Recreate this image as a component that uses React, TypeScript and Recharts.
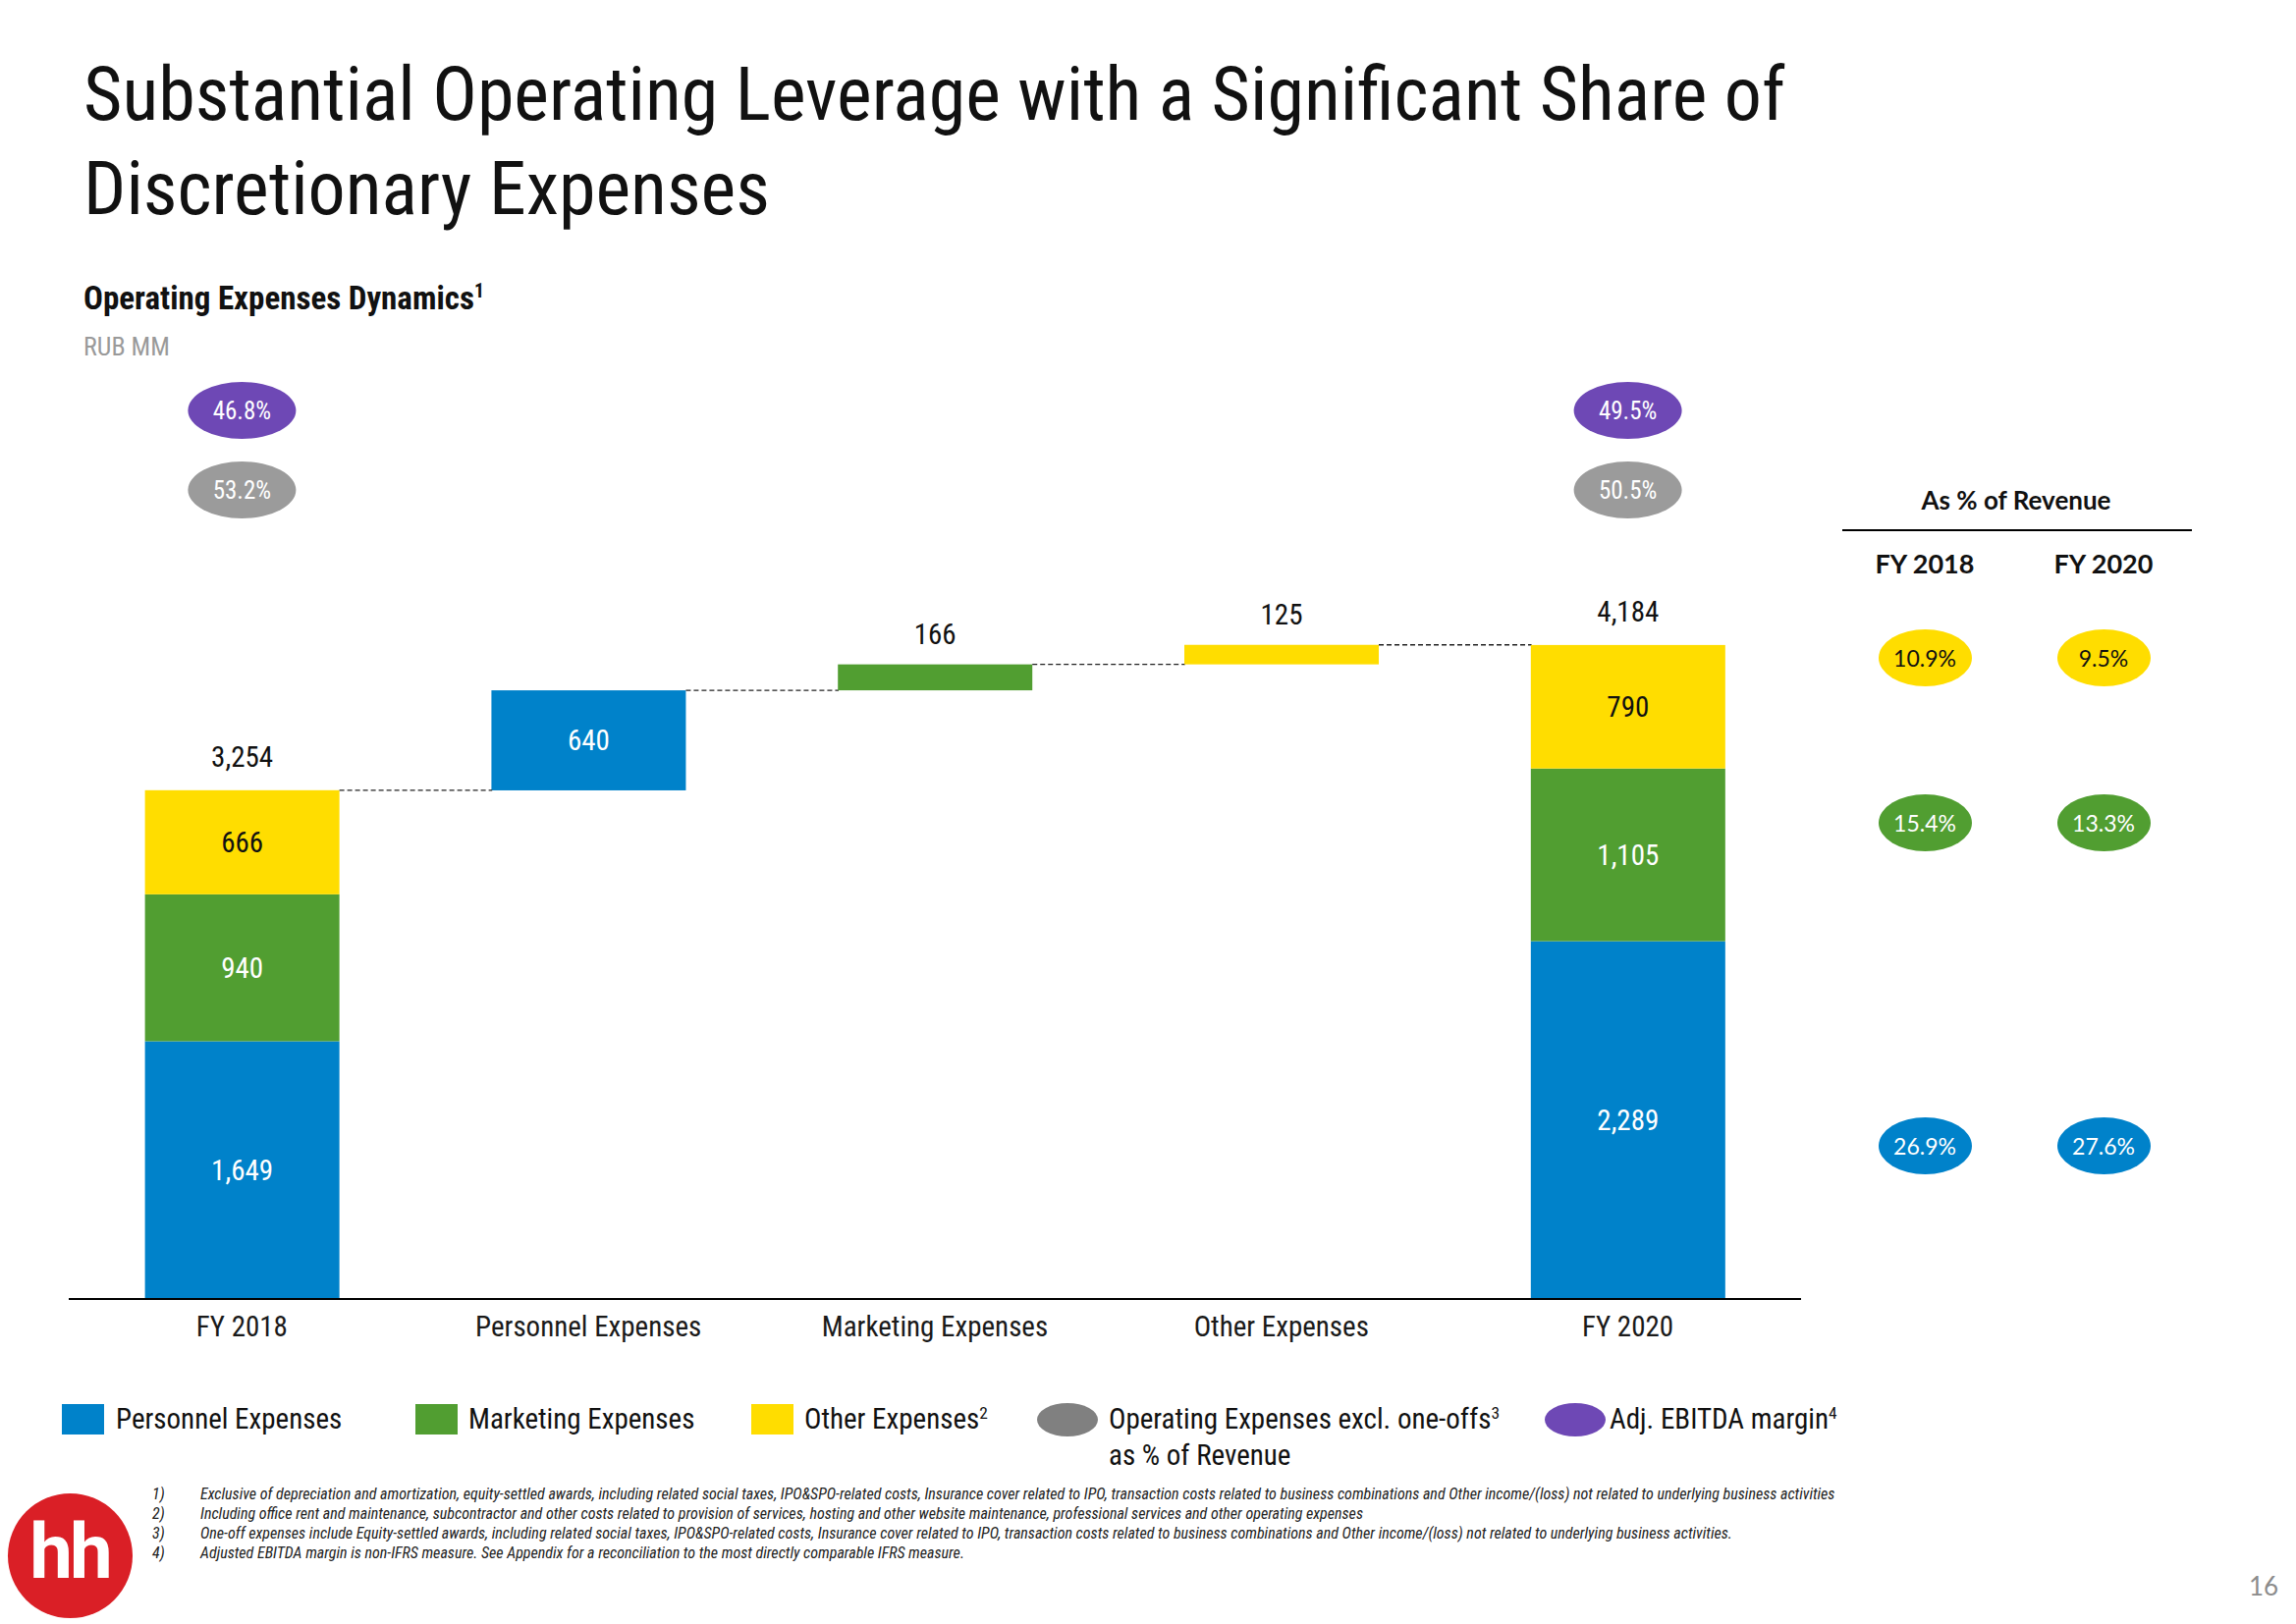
import { BarChart, Bar, XAxis, YAxis } from 'recharts';

// waterfall data (RUB MM)
const categories = ['FY 2018', 'Personnel Expenses', 'Marketing Expenses', 'Other Expenses', 'FY 2020'];
const personnelValues = [1649, 640, 0, 0, 2289];
const marketingValues = [940, 0, 166, 0, 1105];
const otherValues = [666, 0, 0, 125, 790];
const totalValues: (number | null)[] = [3254, null, null, null, 4184];

// bubbles above the total bars
const ebitdaMargin: (string | null)[] = ['46.8%', null, null, null, '49.5%'];
const opexShare: (string | null)[] = ['53.2%', null, null, null, '50.5%'];

// right-hand table, as % of revenue
const revenueYears = ['FY 2018', 'FY 2020'];
const otherShare = ['10.9%', '9.5%'];
const marketingShare = ['15.4%', '13.3%'];
const personnelShare = ['26.9%', '27.6%'];

const footnotes = [
  'Exclusive of depreciation and amortization, equity-settled awards, including related social taxes, IPO&SPO-related costs, Insurance cover related to IPO, transaction costs related to business combinations and Other income/(loss) not related to underlying business activities',
  'Including office rent and maintenance, subcontractor and other costs related to provision of services, hosting and other website maintenance, professional services and other operating expenses',
  'One-off expenses include Equity-settled awards, including related social taxes, IPO&SPO-related costs, Insurance cover related to IPO, transaction costs related to business combinations and Other income/(loss) not related to underlying business activities.',
  'Adjusted EBITDA margin is non-IFRS measure. See Appendix for a reconciliation to the most directly comparable IFRS measure.',
];

const BLUE = '#0082CA';
const GREEN = '#519E31';
const YELLOW = '#FFDD00';
const PURPLE = '#6E48B5';
const GREY = '#9B9B9B';
const LEGEND_GREY = '#808080';
const RED = '#DA1F26';

const NARROW = "'Liberation Sans Narrow', 'Arial Narrow', 'Roboto Condensed', Roboto, sans-serif";
const WIDE = "Lato, 'Open Sans', sans-serif";

const GAP = 0.22; // barCategoryGap on each side of a bar

type Key = 'personnel' | 'marketing' | 'other';
const series: Record<Key, { name: string; color: string; text: string }> = {
  personnel: { name: 'Personnel Expenses', color: BLUE, text: '#fff' },
  marketing: { name: 'Marketing Expenses', color: GREEN, text: '#fff' },
  other: { name: 'Other Expenses', color: YELLOW, text: '#111' },
};

let running = 0;
const data = categories.map((name, i) => {
  const p = personnelValues[i];
  const m = marketingValues[i];
  const o = otherValues[i];
  const total = totalValues[i];
  const base = total != null ? 0 : running;
  running = total != null ? total : running + p + m + o;
  const topKey: Key = o > 0 ? 'other' : m > 0 ? 'marketing' : 'personnel';
  return { name, idx: i, base, personnel: p, marketing: m, other: o, total, topKey };
});

const fmt = (v: number) => v.toLocaleString('en-US');

const segmentShape = (key: Key) => (props: any) => {
  const { x, y, width, height, payload } = props;
  if (!height || height <= 0) return <g />;
  const info = series[key];
  const isTop = payload.topKey === key;
  const last = payload.idx === categories.length - 1;
  const gapW = (width * 2 * GAP) / (1 - 2 * GAP);
  const inside = height > 60;
  const cx = x + width / 2;
  return (
    <g>
      <rect x={x} y={y} width={width} height={height} fill={info.color} />
      {isTop && !last && (
        <line x1={x + width} x2={x + width + gapW} y1={y} y2={y} stroke="#222" strokeWidth={1.3} strokeDasharray="5 3" />
      )}
      <text
        x={cx}
        y={inside ? y + height / 2 + 10 : y - 21}
        textAnchor="middle"
        fontSize={29}
        fontFamily={NARROW}
        fill={inside ? info.text : '#111'}
      >
        {fmt(payload[key])}
      </text>
      {isTop && payload.total != null && (
        <text x={cx} y={y - 24} textAnchor="middle" fontSize={29} fontFamily={NARROW} fill="#111">
          {fmt(payload.total)}
        </text>
      )}
    </g>
  );
};

const CategoryTick = ({ x, y, payload }: any) => (
  <text x={x} y={y + 38} textAnchor="middle" fontSize={29} fontFamily={NARROW} fill="#1a1a1a">
    {payload.value}
  </text>
);

const BubbleTick = ({ x, y, payload }: any) => {
  const i = categories.indexOf(payload.value);
  if (i < 0 || !ebitdaMargin[i]) return <g />;
  const pills = [
    { label: ebitdaMargin[i], fill: PURPLE, dy: -109 },
    { label: opexShare[i], fill: GREY, dy: -28 },
  ];
  return (
    <g>
      {pills.map((p) => (
        <g key={p.dy}>
          <ellipse cx={x} cy={y + p.dy} rx={55} ry={29} fill={p.fill} />
          <text x={x} y={y + p.dy + 9} textAnchor="middle" fontSize={25} fontFamily={NARROW} fill="#fff">
            {p.label}
          </text>
        </g>
      ))}
    </g>
  );
};

const Centered = ({ cx, cy, w, h, style, children }: any) => (
  <div
    style={{
      position: 'absolute',
      left: cx - w / 2,
      top: cy - h / 2,
      width: w,
      height: h,
      display: 'flex',
      alignItems: 'center',
      justifyContent: 'center',
      whiteSpace: 'nowrap',
      ...style,
    }}
  >
    {children}
  </div>
);

const sup = (t: string) => <sup style={{ fontSize: '0.6em', verticalAlign: '0.6em', lineHeight: 0 }}>{t}</sup>;

const legendItems = [
  { x: 63, tx: 118, marker: 'rect', color: BLUE, label: <>Personnel Expenses</> },
  { x: 423, tx: 477, marker: 'rect', color: GREEN, label: <>Marketing Expenses</> },
  { x: 765, tx: 819, marker: 'rect', color: YELLOW, label: <>Other Expenses{sup('2')}</> },
  { x: 1056, tx: 1129, marker: 'ellipse', color: LEGEND_GREY, label: <>Operating Expenses excl. one-offs{sup('3')}</> },
  { x: 1573, tx: 1639, marker: 'ellipse', color: PURPLE, label: <>Adj. EBITDA margin{sup('4')}</> },
];

const tableRows = [
  { values: otherShare, color: YELLOW, text: '#111', cy: 670 },
  { values: marketingShare, color: GREEN, text: '#fff', cy: 838 },
  { values: personnelShare, color: BLUE, text: '#fff', cy: 1167 },
];
const tableCols = [1960, 2142];

export default function App() {
  return (
    <div
      style={{
        position: 'absolute',
        left: 0,
        top: 0,
        width: 2338,
        height: 1654,
        background: '#fff',
        overflow: 'hidden',
        color: '#111',
      }}
    >
      <div
        style={{
          position: 'absolute',
          left: 85,
          top: 48,
          fontSize: 76,
          lineHeight: '96px',
          fontFamily: NARROW,
          whiteSpace: 'nowrap',
        }}
      >
        Substantial Operating Leverage with a Significant Share of
        <br />
        Discretionary Expenses
      </div>
      <div style={{ position: 'absolute', left: 85, top: 287, fontSize: 33, lineHeight: '33px', fontWeight: 700, fontFamily: NARROW }}>
        Operating Expenses Dynamics{sup('1')}
      </div>
      <div style={{ position: 'absolute', left: 85, top: 340, fontSize: 26, lineHeight: '26px', color: '#9a9a9a', fontFamily: NARROW }}>
        RUB MM
      </div>

      <div style={{ position: 'absolute', left: 0, top: 357 }}>
        <BarChart
          width={1900}
          height={1046}
          data={data}
          margin={{ top: 0, right: 66, bottom: 20, left: 70 }}
          barCategoryGap={`${GAP * 100}%`}
        >
          <XAxis
            xAxisId="top"
            orientation="top"
            dataKey="name"
            height={170}
            axisLine={false}
            tickLine={false}
            tickSize={0}
            tickMargin={0}
            tick={<BubbleTick />}
            interval={0}
          />
          <XAxis
            dataKey="name"
            height={60}
            axisLine={{ stroke: '#000', strokeWidth: 2 }}
            tickLine={false}
            tickSize={0}
            tickMargin={0}
            tick={<CategoryTick />}
            interval={0}
          />
          <YAxis hide domain={[0, 5000]} />
          <Bar dataKey="base" stackId="s" fill="transparent" isAnimationActive={false} />
          <Bar dataKey="personnel" name={series.personnel.name} stackId="s" shape={segmentShape('personnel')} isAnimationActive={false} />
          <Bar dataKey="marketing" name={series.marketing.name} stackId="s" shape={segmentShape('marketing')} isAnimationActive={false} />
          <Bar dataKey="other" name={series.other.name} stackId="s" shape={segmentShape('other')} isAnimationActive={false} />
        </BarChart>
      </div>

      {legendItems.map((it, i) => (
        <div key={i}>
          {it.marker === 'rect' ? (
            <div style={{ position: 'absolute', left: it.x, top: 1430, width: 43, height: 31, background: it.color }} />
          ) : (
            <div style={{ position: 'absolute', left: it.x, top: 1429, width: 62, height: 34, borderRadius: '50%', background: it.color }} />
          )}
          <div style={{ position: 'absolute', left: it.tx, top: 1428, height: 34, lineHeight: '34px', fontSize: 29, fontFamily: NARROW, whiteSpace: 'nowrap' }}>
            {it.label}
          </div>
        </div>
      ))}
      <div style={{ position: 'absolute', left: 1129, top: 1465, height: 34, lineHeight: '34px', fontSize: 29, fontFamily: NARROW, whiteSpace: 'nowrap' }}>
        as % of Revenue
      </div>

      <Centered cx={2053} cy={509} w={360} h={34} style={{ fontFamily: WIDE, fontWeight: 700, fontSize: 26 }}>
        As % of Revenue
      </Centered>
      <div style={{ position: 'absolute', left: 1876, top: 539, width: 356, height: 2, background: '#000' }} />
      {revenueYears.map((yr, c) => (
        <Centered key={yr} cx={tableCols[c]} cy={573} w={160} h={34} style={{ fontFamily: WIDE, fontWeight: 700, fontSize: 27 }}>
          {yr}
        </Centered>
      ))}
      {tableRows.map((row) =>
        row.values.map((v, c) => (
          <Centered
            key={row.cy + '-' + c}
            cx={tableCols[c]}
            cy={row.cy}
            w={95}
            h={58}
            style={{ borderRadius: '50%', background: row.color, color: row.text, fontFamily: WIDE, fontSize: 23 }}
          >
            {v}
          </Centered>
        ))
      )}

      <div style={{ position: 'absolute', left: 155, top: 1512, fontSize: 16, lineHeight: '20px', fontStyle: 'italic', fontFamily: NARROW, color: '#222' }}>
        {footnotes.map((f, i) => (
          <div key={i} style={{ display: 'flex', whiteSpace: 'nowrap' }}>
            <span style={{ width: 49 }}>{i + 1})</span>
            <span>{f}</span>
          </div>
        ))}
      </div>

      <Centered cx={71} cy={1584} w={127} h={127} style={{ borderRadius: '50%', background: RED, color: '#fff', fontFamily: 'Roboto, sans-serif', fontWeight: 700, fontSize: 78, letterSpacing: -3 }}>
        <span style={{ marginTop: -8 }}>hh</span>
      </Centered>

      <Centered cx={2305} cy={1615} w={60} h={30} style={{ fontFamily: WIDE, fontSize: 26, color: '#8c8c8c' }}>
        16
      </Centered>
    </div>
  );
}
